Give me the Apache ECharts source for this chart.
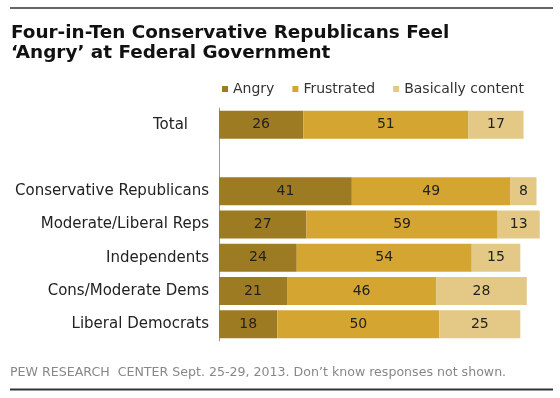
<!DOCTYPE html>
<html><head><meta charset="utf-8">
<script src="https://cdn.jsdelivr.net/npm/echarts@6/dist/echarts.min.js"></script>
<style>html,body{margin:0;padding:0;background:#fff}#c{width:560px;height:398px}</style>
</head><body><div id="c"></div>
<script>
const categories = ['Total', '', 'Conservative Republicans', 'Moderate/Liberal Reps', 'Independents', 'Cons/Moderate Dems', 'Liberal Democrats'];
const angry = [26, null, 41, 27, 24, 21, 18];
const frustrated = [51, null, 49, 59, 54, 46, 50];
const content = [17, null, 8, 13, 15, 28, 25];
const seriesNames = ['Angry', 'Frustrated', 'Basically content'];
const colors = ['#9d7b23', '#d4a531', '#e3c985'];

const chart = echarts.init(document.getElementById('c'), null, {renderer: 'canvas'});
const F = '"DejaVu Sans", sans-serif';
const mk = (name, data, i) => ({
  name, type: 'bar', stack: 'all', data, barWidth: 28,
  itemStyle: {color: colors[i]},
  label: {show: true, position: 'inside', color: '#222', fontFamily: F, fontSize: 14},
  emphasis: {disabled: true}
});
chart.setOption({
  animation: false,
  title: {
    text: 'Four-in-Ten Conservative Republicans Feel\n\u2018Angry\u2019 at Federal Government',
    left: 6, top: 18,
    textStyle: {fontFamily: F, fontWeight: 'bold', fontSize: 18.4, color: '#111', lineHeight: 20}
  },
  legend: {
    data: seriesNames, left: 217, top: 77, icon: 'rect', itemWidth: 6, itemHeight: 6, itemGap: 18,
    textStyle: {fontFamily: F, fontSize: 14, color: '#333'}
  },
  grid: {left: 219, top: 108, width: 324, height: 233, containLabel: false},
  xAxis: {type: 'value', min: 0, max: 100, show: false},
  yAxis: {
    type: 'category', data: categories, inverse: true,
    axisLine: {show: true, lineStyle: {color: '#999', width: 1}},
    axisTick: {show: false},
    axisLabel: {
      margin: 10, fontFamily: F, fontSize: 15, color: '#222',
      formatter: v => v === 'Total' ? '{t|' + v + '}' : v,
      rich: {t: {fontFamily: F, fontSize: 15, color: '#222', padding: [0, 21, 0, 0]}}
    }
  },
  series: [mk(seriesNames[0], angry, 0), mk(seriesNames[1], frustrated, 1), mk(seriesNames[2], content, 2)],
  graphic: [
    {type: 'line', shape: {x1: 10, y1: 8, x2: 553, y2: 8}, style: {stroke: '#333', lineWidth: 1.5}},
    {type: 'line', shape: {x1: 10, y1: 389.5, x2: 553, y2: 389.5}, style: {stroke: '#333', lineWidth: 2}},
    {type: 'text', left: 10, top: 366, style: {text: 'PEW RESEARCH  CENTER Sept. 25-29, 2013. Don\u2019t know responses not shown.', fontFamily: F, fontSize: 12.6, fill: '#888'}}
  ]
});
</script></body></html>
